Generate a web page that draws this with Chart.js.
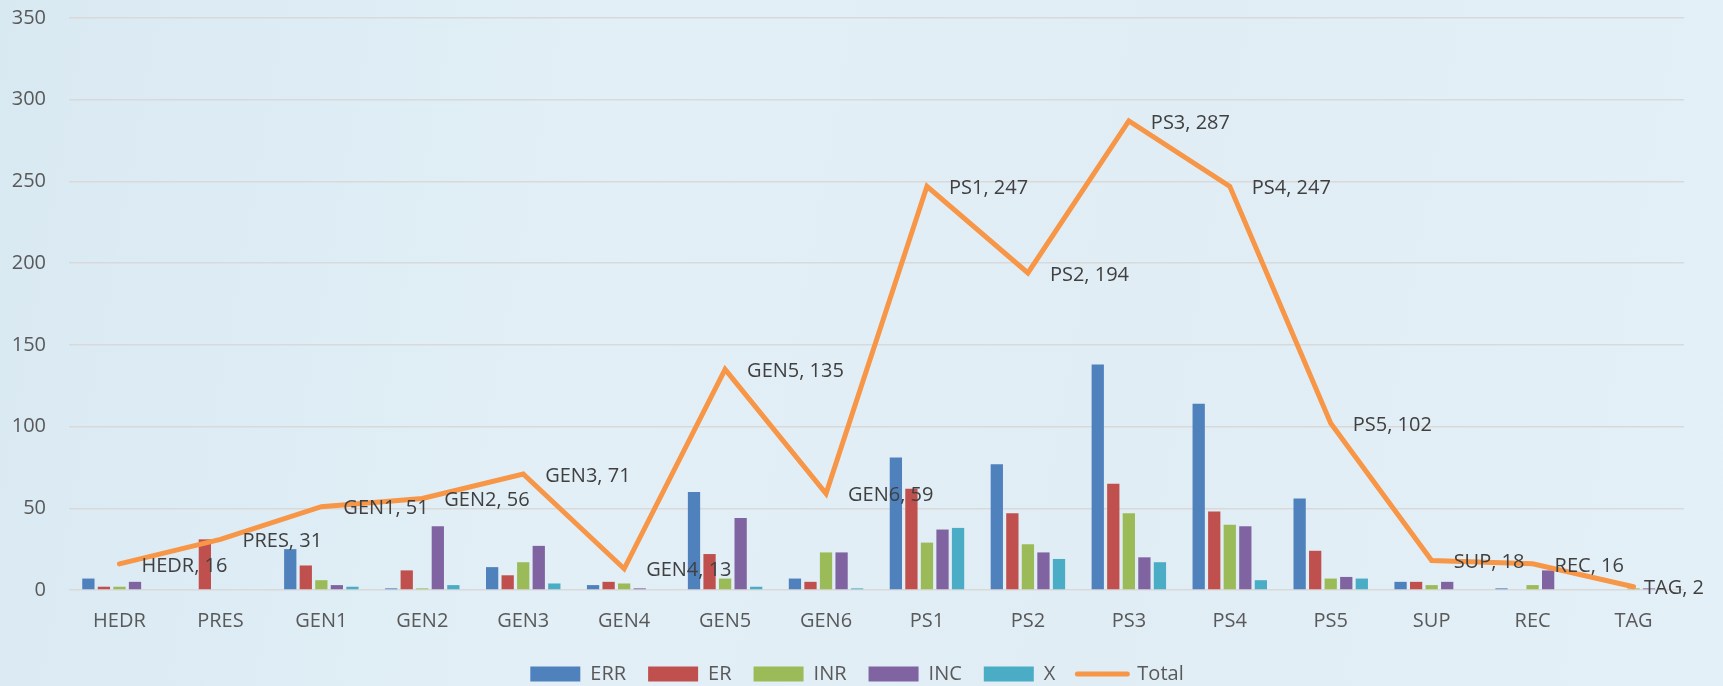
<!DOCTYPE html>
<html>
<head>
<meta charset="utf-8">
<script src="https://cdn.jsdelivr.net/npm/chart.js@4/dist/chart.umd.min.js"></script>
<style>
  html, body { margin: 0; padding: 0; }
  body {
    width: 1723px; height: 686px; overflow: hidden;
    background: linear-gradient(100deg, #d9e9f2 0%, #e2eff7 35%, #e0edf5 65%, #e4f0f7 100%);
  }
  #wrap { position: relative; width: 1723px; height: 686px; }
</style>
</head>
<body>
<div id="wrap"><canvas id="chart"></canvas></div>
<script>
var categories = ["HEDR", "PRES", "GEN1", "GEN2", "GEN3", "GEN4", "GEN5", "GEN6",
    "PS1", "PS2", "PS3", "PS4", "PS5", "SUP", "REC", "TAG"];
var err = [7, 0, 25, 1, 14, 3, 60, 7, 81, 77, 138, 114, 56, 5, 1, 0];
var er = [2, 31, 15, 12, 9, 5, 22, 5, 62, 47, 65, 48, 24, 5, 0, 0];
var inr = [2, 0, 6, 1, 17, 4, 7, 23, 29, 28, 47, 40, 7, 3, 3, 1];
var inc = [5, 0, 3, 39, 27, 1, 44, 23, 37, 23, 20, 39, 8, 5, 12, 1];
var xVals = [0, 0, 2, 3, 4, 0, 2, 1, 38, 19, 17, 6, 7, 0, 0, 0];
var total = [16, 31, 51, 56, 71, 13, 135, 59, 247, 194, 287, 247, 102, 18, 16, 2];
var yTicks = [0, 50, 100, 150, 200, 250, 300, 350];

var font = '"Open Sans", "Noto Sans", sans-serif';

// squeeze the legend box so it sits close to the bottom edge,
// then nudge it a little to the right like the original
var legendFit = {
    id: 'legendFit',
    beforeInit: function (chart) {
        var fit = chart.legend.fit;
        chart.legend.fit = function () {
            fit.bind(chart.legend)();
            this.height = 44;
        };
    },
    afterLayout: function (chart) {
        chart.legend.left += 15;
        chart.legend.right += 15;
    }
};

// "CAT, value" labels to the right of each point of the Total line
var totalLabels = {
    id: 'totalLabels',
    afterDatasetsDraw: function (chart) {
        var ctx = chart.ctx;
        var meta = chart.getDatasetMeta(5);
        ctx.save();
        ctx.font = '20px ' + font;
        ctx.fillStyle = '#404040';
        ctx.textBaseline = 'middle';
        ctx.textAlign = 'left';
        meta.data.forEach(function (pt, i) {
            var text = categories[i] + ', ' + total[i];
            var w = ctx.measureText(text).width;
            var x = pt.x + 22;
            if (x + w > chart.width - 19) x = chart.width - 19 - w;
            ctx.fillText(text, x, pt.y + 2);
        });
        ctx.restore();
    }
};

function bar(label, data, color) {
    return {
        type: 'bar',
        label: label,
        data: data,
        backgroundColor: color,
        borderColor: color,
        borderWidth: 0,
        categoryPercentage: 0.77,
        barPercentage: 0.79,
        order: 1
    };
}

new Chart(document.getElementById('chart'), {
    data: {
        labels: categories,
        datasets: [
            bar('ERR', err, '#4f81bd'),
            bar('ER', er, '#c0504d'),
            bar('INR', inr, '#9bbb59'),
            bar('INC', inc, '#8064a2'),
            bar('X', xVals, '#4bacc6'),
            {
                type: 'line',
                label: 'Total',
                data: total,
                borderColor: '#f79646',
                backgroundColor: '#f79646',
                borderWidth: 5,
                borderJoinStyle: 'miter',
                borderCapStyle: 'round',
                pointRadius: 0,
                tension: 0,
                order: 0
            }
        ]
    },
    options: {
        responsive: true,
        maintainAspectRatio: false,
        animation: false,
        layout: { padding: { top: 18, right: 39, left: 0, bottom: 0 } },
        plugins: {
            tooltip: { enabled: false },
            legend: {
                position: 'bottom',
                labels: {
                    usePointStyle: true,
                    pointStyleWidth: 50,
                    boxHeight: 15,
                    padding: 22,
                    color: '#595959',
                    font: { family: font, size: 20 },
                    generateLabels: function (chart) {
                        return chart.data.datasets.map(function (ds, i) {
                            var isLine = ds.type === 'line';
                            return {
                                text: ds.label,
                                fillStyle: ds.backgroundColor,
                                strokeStyle: ds.borderColor,
                                lineWidth: isLine ? 5 : 0,
                                lineCap: 'round',
                                pointStyle: isLine ? 'line' : 'rect',
                                fontColor: '#595959',
                                datasetIndex: i,
                                hidden: false
                            };
                        });
                    }
                }
            }
        },
        scales: {
            x: {
                grid: { display: false },
                border: { display: false },
                ticks: {
                    color: '#595959',
                    padding: 11,
                    font: { family: font, size: 20 }
                },
                afterFit: function (scale) { scale.height = 52; }
            },
            y: {
                min: 0,
                max: 350,
                grid: { color: '#d9d9d9', lineWidth: 1.5, drawTicks: false },
                border: { display: false },
                afterBuildTicks: function (scale) {
                    scale.ticks = yTicks.map(function (v) { return { value: v }; });
                },
                ticks: {
                    color: '#595959',
                    padding: 23,
                    font: { family: font, size: 20 }
                },
                afterFit: function (scale) {
                    scale.width = 69;
                    scale.paddingTop = 12;
                    scale.paddingBottom = 12;
                }
            }
        }
    },
    plugins: [legendFit, totalLabels]
});
</script>
</body>
</html>
